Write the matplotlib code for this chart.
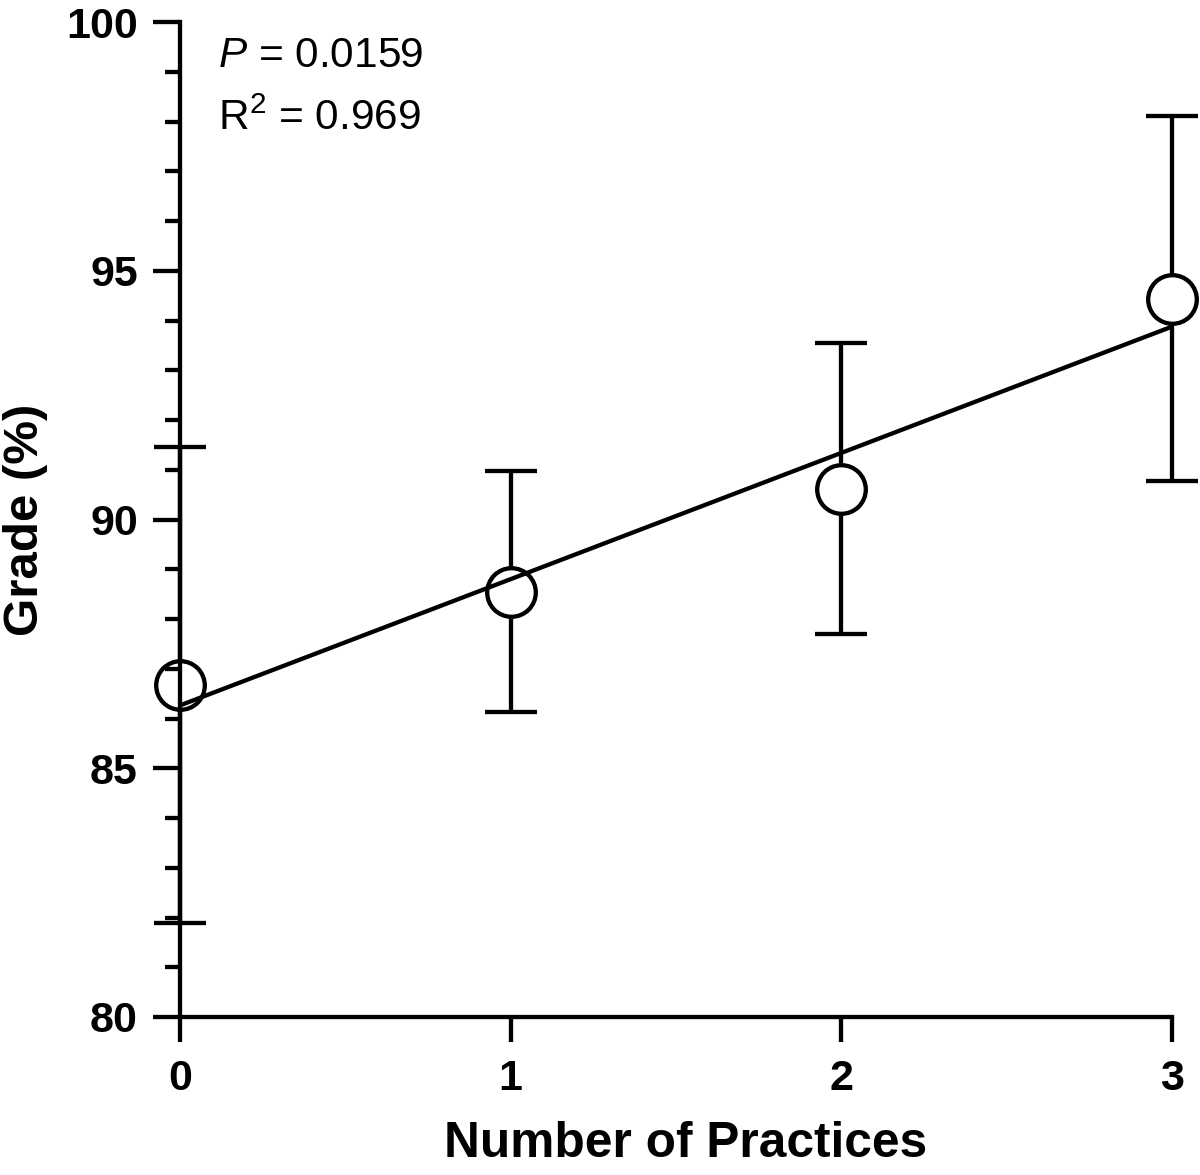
import numpy as np
import matplotlib
matplotlib.use("Agg")
import matplotlib.pyplot as plt
from matplotlib.ticker import MultipleLocator

plt.rcParams['font.family'] = ['Liberation Sans', 'DejaVu Sans']
plt.rcParams['mathtext.fontset'] = 'custom'
plt.rcParams['mathtext.rm'] = 'Liberation Sans'
plt.rcParams['mathtext.it'] = 'Liberation Sans:italic'
plt.rcParams['mathtext.bf'] = 'Liberation Sans:bold'

# Data
practices = [0, 1, 2, 3]
grade_mean = [86.67, 88.55, 90.62, 94.44]
grade_err = [4.78, 2.42, 2.92, 3.67]
x_ticks = [0, 1, 2, 3]
y_ticks = [80, 85, 90, 95, 100]
p_text = "$P$ = 0.0159"
r2_text = "R$^2$ = 0.969"
x_label = "Number of Practices"
y_label = "Grade (%)"

LW = 3.1

fig = plt.figure(figsize=(12, 11.75), dpi=100)
ax = fig.add_axes([0.15, 1 - 1017 / 1175, (1172 - 180) / 1200, (1017 - 22) / 1175])

# error bars
eb = ax.errorbar(practices, grade_mean, yerr=grade_err, fmt='none', ecolor='black',
                 elinewidth=LW, capsize=19, capthick=LW, zorder=2)
for art in eb.lines[1]:
    art.set_clip_on(False)
for coll in eb.lines[2]:
    coll.set_clip_on(False)

# markers
ax.plot(practices, grade_mean, linestyle='none', marker='o', markersize=35,
        markerfacecolor='white', markeredgecolor='black', markeredgewidth=LW,
        zorder=3, clip_on=False)

# regression line
slope, intercept = np.polyfit(practices, grade_mean, 1)
xs = np.array([practices[0], practices[-1]], dtype=float)
ax.plot(xs, intercept + slope * xs, color='black', linewidth=LW, zorder=4,
        solid_capstyle='butt', clip_on=False)

ax.set_xlim(0, 3)
ax.set_ylim(80, 100)
ax.set_xticks(x_ticks)
ax.set_yticks(y_ticks)
ax.yaxis.set_minor_locator(MultipleLocator(1))

for s in ['top', 'right']:
    ax.spines[s].set_visible(False)
for s in ['left', 'bottom']:
    ax.spines[s].set_linewidth(LW)
    ax.spines[s].set_zorder(5)
ax.xaxis.set_zorder(5)
ax.yaxis.set_zorder(5)

ax.tick_params(axis='y', which='major', direction='out', length=19.4, width=LW,
               pad=11, labelsize=31)
ax.tick_params(axis='y', which='minor', direction='out', length=10.8, width=LW)
ax.tick_params(axis='x', which='major', direction='out', length=18, width=LW,
               pad=12, labelsize=31)
for lbl in ax.get_xticklabels() + ax.get_yticklabels():
    lbl.set_fontweight('bold')

ax.set_xlabel(x_label, fontsize=35.7, fontweight='bold')
ax.set_ylabel(y_label, fontsize=35.5, fontweight='bold')
ax.xaxis.set_label_coords(0.51, -0.105)
ax.yaxis.set_label_coords(-0.133, 0.5)

ax.text(0.038, 0.955, p_text, transform=ax.transAxes, fontsize=30.5,
        ha='left', va='baseline')
ax.text(0.038, 0.891, r2_text, transform=ax.transAxes, fontsize=30.5,
        ha='left', va='baseline')

fig.savefig("out.png", dpi=100)
